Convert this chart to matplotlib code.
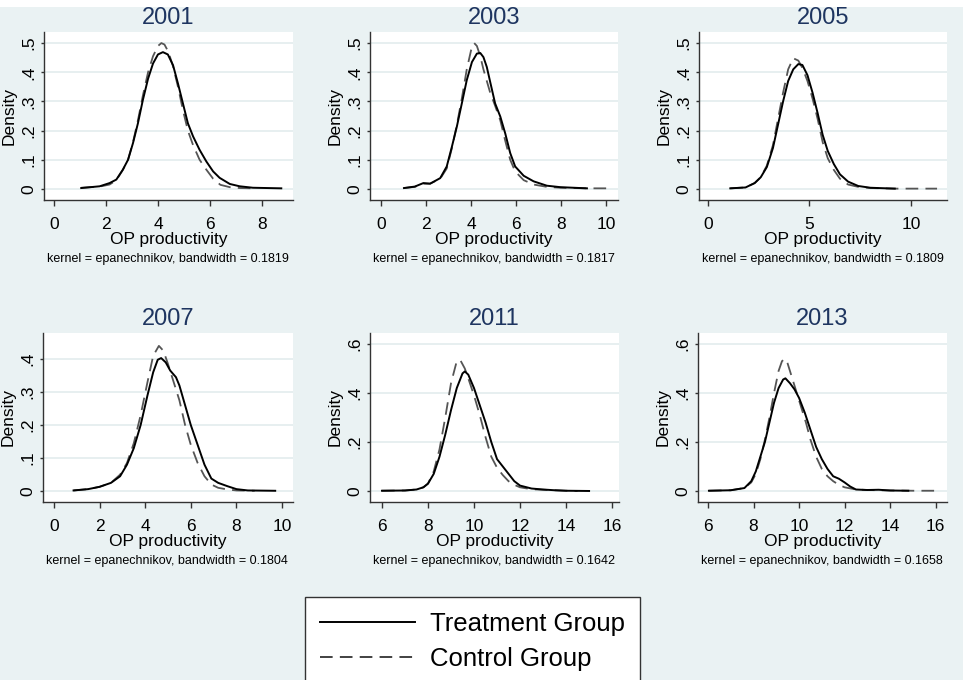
import matplotlib
matplotlib.use("Agg")
import matplotlib.pyplot as plt
from matplotlib.lines import Line2D

plt.rcParams['font.family'] = ['Liberation Sans', 'DejaVu Sans']

# ---------------- data ----------------
years = ["2001", "2003", "2005", "2007", "2011", "2013"]
bandwidths = ["0.1819", "0.1817", "0.1809", "0.1804", "0.1642", "0.1658"]

t2001_x = [1.05, 1.76, 2.14, 2.4, 2.65, 2.85, 3.04, 3.23, 3.42, 3.62, 3.81, 4.0, 4.19, 4.38, 4.58, 4.77, 4.96, 5.15, 5.35, 5.6, 5.86, 6.12, 6.37, 6.76, 7.14, 7.65, 8.74]
t2001_y = [0.003, 0.009, 0.02, 0.032, 0.066, 0.1, 0.157, 0.225, 0.305, 0.378, 0.43, 0.461, 0.469, 0.461, 0.424, 0.361, 0.293, 0.225, 0.18, 0.134, 0.094, 0.06, 0.038, 0.017, 0.009, 0.004, 0.002]
c2001_x = [1.05, 1.76, 2.14, 2.4, 2.65, 2.85, 3.04, 3.23, 3.42, 3.62, 3.81, 4.0, 4.13, 4.25, 4.4, 4.58, 4.77, 4.96, 5.15, 5.35, 5.6, 5.86, 6.12, 6.4, 6.76, 7.14, 7.65]
c2001_y = [0.004, 0.008, 0.015, 0.03, 0.065, 0.1, 0.16, 0.235, 0.32, 0.4, 0.455, 0.49, 0.5, 0.495, 0.47, 0.42, 0.35, 0.27, 0.2, 0.15, 0.1, 0.066, 0.035, 0.014, 0.006, 0.003, 0.002]

t2003_x = [1.02, 1.5, 1.88, 2.18, 2.63, 2.92, 3.15, 3.37, 3.59, 3.81, 4.04, 4.26, 4.41, 4.55, 4.7, 4.85, 5.07, 5.3, 5.52, 5.74, 5.96, 6.34, 6.78, 7.37, 7.97, 9.15]
t2003_y = [0.003, 0.008, 0.02, 0.018, 0.037, 0.077, 0.145, 0.214, 0.293, 0.373, 0.435, 0.464, 0.466, 0.452, 0.418, 0.367, 0.293, 0.248, 0.19, 0.123, 0.077, 0.045, 0.026, 0.011, 0.006, 0.002]
c2003_x = [1.02, 1.5, 1.88, 2.18, 2.63, 2.92, 3.15, 3.37, 3.59, 3.81, 4.0, 4.14, 4.26, 4.41, 4.55, 4.7, 4.85, 5.07, 5.3, 5.52, 5.74, 5.96, 6.34, 6.78, 7.37, 7.97, 9.15, 10.04]
c2003_y = [0.003, 0.007, 0.018, 0.018, 0.035, 0.07, 0.14, 0.22, 0.31, 0.41, 0.475, 0.5, 0.49, 0.455, 0.41, 0.37, 0.33, 0.285, 0.235, 0.165, 0.1, 0.06, 0.03, 0.015, 0.007, 0.004, 0.002, 0.002]

t2005_x = [1.1, 1.85, 2.3, 2.6, 2.9, 3.2, 3.45, 3.7, 3.95, 4.2, 4.45, 4.65, 4.9, 5.15, 5.4, 5.65, 5.9, 6.2, 6.5, 6.9, 7.4, 8.0, 9.2]
t2005_y = [0.002, 0.005, 0.02, 0.04, 0.075, 0.14, 0.22, 0.3, 0.37, 0.41, 0.428, 0.425, 0.39, 0.33, 0.26, 0.185, 0.13, 0.085, 0.05, 0.025, 0.01, 0.004, 0.001]
c2005_x = [1.1, 1.85, 2.3, 2.6, 2.9, 3.2, 3.45, 3.7, 3.95, 4.2, 4.45, 4.65, 4.9, 5.15, 5.4, 5.65, 5.9, 6.2, 6.5, 6.9, 7.4, 8.0, 9.2, 11.28]
c2005_y = [0.002, 0.005, 0.02, 0.04, 0.08, 0.15, 0.24, 0.33, 0.41, 0.448, 0.44, 0.415, 0.37, 0.31, 0.24, 0.16, 0.105, 0.065, 0.035, 0.015, 0.007, 0.003, 0.001, 0.001]

t2007_x = [0.86, 1.5, 2.0, 2.5, 2.9, 3.2, 3.5, 3.8, 4.1, 4.35, 4.55, 4.7, 4.9, 5.1, 5.35, 5.5, 5.75, 6.0, 6.3, 6.6, 6.9, 7.2, 7.6, 8.0, 8.5, 9.7]
t2007_y = [0.002, 0.006, 0.013, 0.025, 0.045, 0.08, 0.13, 0.2, 0.29, 0.36, 0.398, 0.403, 0.39, 0.365, 0.345, 0.32, 0.26, 0.2, 0.14, 0.08, 0.038, 0.025, 0.015, 0.006, 0.002, 0.001]
c2007_x = [0.86, 1.5, 2.0, 2.5, 2.9, 3.2, 3.5, 3.8, 4.1, 4.35, 4.6, 4.8, 5.0, 5.25, 5.5, 5.75, 6.0, 6.3, 6.6, 6.9, 7.2, 7.6, 8.0, 8.8]
c2007_y = [0.002, 0.006, 0.013, 0.025, 0.05, 0.085, 0.145, 0.23, 0.33, 0.41, 0.44, 0.425, 0.385, 0.33, 0.275, 0.2, 0.14, 0.085, 0.045, 0.02, 0.01, 0.005, 0.002, 0.001]

t2011_x = [6.0, 7.0, 7.5, 7.8, 8.0, 8.25, 8.5, 8.75, 9.0, 9.25, 9.5, 9.6, 9.75, 10.0, 10.25, 10.5, 10.75, 11.0, 11.25, 11.5, 11.75, 12.0, 12.5, 13.0, 13.5, 14.0, 15.0]
t2011_y = [0.001, 0.002, 0.006, 0.015, 0.03, 0.07, 0.14, 0.23, 0.33, 0.42, 0.48, 0.488, 0.475, 0.42, 0.35, 0.28, 0.2, 0.13, 0.1, 0.07, 0.04, 0.022, 0.01, 0.006, 0.003, 0.001, 0.0]
c2011_x = [6.0, 7.0, 7.5, 7.8, 8.0, 8.25, 8.5, 8.75, 9.0, 9.25, 9.4, 9.6, 9.75, 10.0, 10.25, 10.5, 10.75, 11.0, 11.25, 11.5, 11.75, 12.0, 12.5, 13.0, 13.5, 14.0, 14.5]
c2011_y = [0.001, 0.002, 0.006, 0.015, 0.03, 0.08, 0.17, 0.3, 0.44, 0.53, 0.535, 0.5, 0.46, 0.39, 0.31, 0.22, 0.14, 0.095, 0.065, 0.04, 0.025, 0.015, 0.007, 0.005, 0.003, 0.001, 0.0]

t2013_x = [6.04, 7.0, 7.6, 7.9, 8.1, 8.3, 8.5, 8.7, 8.9, 9.1, 9.3, 9.4, 9.6, 9.8, 10.0, 10.25, 10.5, 10.75, 11.0, 11.25, 11.5, 11.75, 12.0, 12.25, 12.5, 13.0, 13.5, 14.0, 14.8]
t2013_y = [0.001, 0.003, 0.012, 0.04, 0.08, 0.14, 0.2, 0.28, 0.36, 0.42, 0.455, 0.46, 0.44, 0.415, 0.38, 0.32, 0.25, 0.18, 0.13, 0.09, 0.06, 0.05, 0.035, 0.018, 0.006, 0.004, 0.005, 0.002, 0.001]
c2013_x = [6.04, 7.0, 7.6, 7.9, 8.1, 8.3, 8.5, 8.7, 8.9, 9.1, 9.25, 9.38, 9.5, 9.7, 9.9, 10.1, 10.3, 10.5, 10.75, 11.0, 11.25, 11.5, 11.75, 12.0, 12.5, 13.0, 13.5, 14.0, 15.0, 16.0]
c2013_y = [0.001, 0.003, 0.012, 0.035, 0.07, 0.13, 0.21, 0.3, 0.4, 0.49, 0.53, 0.54, 0.52, 0.46, 0.4, 0.34, 0.28, 0.21, 0.14, 0.09, 0.06, 0.04, 0.025, 0.015, 0.006, 0.004, 0.003, 0.002, 0.001, 0.001]

treat_x = [t2001_x, t2003_x, t2005_x, t2007_x, t2011_x, t2013_x]
treat_y = [t2001_y, t2003_y, t2005_y, t2007_y, t2011_y, t2013_y]
ctrl_x = [c2001_x, c2003_x, c2005_x, c2007_x, c2011_x, c2013_x]
ctrl_y = [c2001_y, c2003_y, c2005_y, c2007_y, c2011_y, c2013_y]

xticks = [[0, 2, 4, 6, 8], [0, 2, 4, 6, 8, 10], [0, 5, 10], [0, 2, 4, 6, 8, 10],
          [6, 8, 10, 12, 14, 16], [6, 8, 10, 12, 14, 16]]
yticks = [[0, .1, .2, .3, .4, .5]] * 3 + [[0, .1, .2, .3, .4], [0, .2, .4, .6], [0, .2, .4, .6]]
ytick_labels = [["0", ".1", ".2", ".3", ".4", ".5"]] * 3 + [["0", ".1", ".2", ".3", ".4"],
                ["0", ".2", ".4", ".6"], ["0", ".2", ".4", ".6"]]
xlims = [(-0.38, 9.19), (-0.49, 10.53), (-0.44, 11.77), (-0.48, 10.48), (5.48, 16.3), (5.56, 16.5)]
ylims = [(-0.038, 0.538), (-0.038, 0.538), (-0.038, 0.538), (-0.033, 0.479), (-0.045, 0.645), (-0.045, 0.645)]

# ---------------- layout (pixels) ----------------
W, H = 963, 680
BG = "#EAF2F3"
panels = [(44, 32, 293, 200), (370, 32, 618, 200), (699, 32, 947, 200),
          (43, 333, 293, 502), (370, 333, 619, 502), (698, 333, 947, 502)]

fig = plt.figure(figsize=(W / 100, H / 100), dpi=100, facecolor=BG)
# white strip on top
fig.patches.append(plt.Rectangle((0, 1 - 7 / H), 1, 7 / H, transform=fig.transFigure,
                                 facecolor="white", edgecolor="none", zorder=0))

AX = "#333333"
for i, (l, t, r, b) in enumerate(panels):
    ax = fig.add_axes([l / W, 1 - b / H, (r - l) / W, (b - t) / H])
    ax.set_facecolor("white")
    for s in ["top", "right"]:
        ax.spines[s].set_visible(False)
    for s in ["left", "bottom"]:
        ax.spines[s].set_color(AX)
        ax.spines[s].set_linewidth(1.0)
    ax.set_xlim(*xlims[i])
    ax.set_ylim(*ylims[i])
    ax.set_xticks(xticks[i])
    ax.set_xticklabels([str(v) for v in xticks[i]])
    ax.set_yticks(yticks[i])
    ax.set_yticklabels(ytick_labels[i], rotation=90, va="center")
    ax.tick_params(axis="x", length=4, width=1, color=AX, pad=8, labelsize=12.5, labelcolor="black")
    ax.tick_params(axis="y", length=2.5, width=1, color=AX, pad=3, labelsize=12.5, labelcolor="black")
    for y in yticks[i]:
        ax.axhline(y, color="#E3ECEE", lw=1.2, zorder=0)
    ax.plot(treat_x[i], treat_y[i], color="black", lw=1.4, zorder=3)
    ax.plot(ctrl_x[i], ctrl_y[i], color="#555555", lw=1.3, ls=(0, (7, 4)), zorder=2)
    ax.set_xlabel("OP productivity", fontsize=12.5, labelpad=0)
    ax.set_ylabel("Density", fontsize=12.5, va="center")
    ax.yaxis.set_label_coords(-35 / (r - l), 0.5)
    cx = (l + r) / 2
    fig.text(cx / W, 1 - (t - 14) / H, years[i], ha="center", va="center", fontsize=17, color="#1E3560")
    fig.text((l + 3) / W, 1 - (b + 59) / H, "kernel = epanechnikov, bandwidth = " + bandwidths[i],
             ha="left", va="center", fontsize=9, color="black")

handles = [Line2D([], [], color="black", lw=1.4),
           Line2D([], [], color="#333333", lw=1.3, ls=(0, (7, 4)))]
leg = fig.legend(handles, ["Treatment Group", "Control Group"], loc="upper left",
                 bbox_to_anchor=(305 / W, 1 - 597 / H), fontsize=18.5, frameon=True,
                 fancybox=False, edgecolor="#333333", framealpha=1.0, handlelength=3.7,
                 handletextpad=0.55, borderpad=0.6, labelspacing=0.42, borderaxespad=0)
leg.get_frame().set_linewidth(1.0)
leg.get_frame().set_facecolor("white")

fig.savefig("out.png", dpi=100, facecolor=BG)
